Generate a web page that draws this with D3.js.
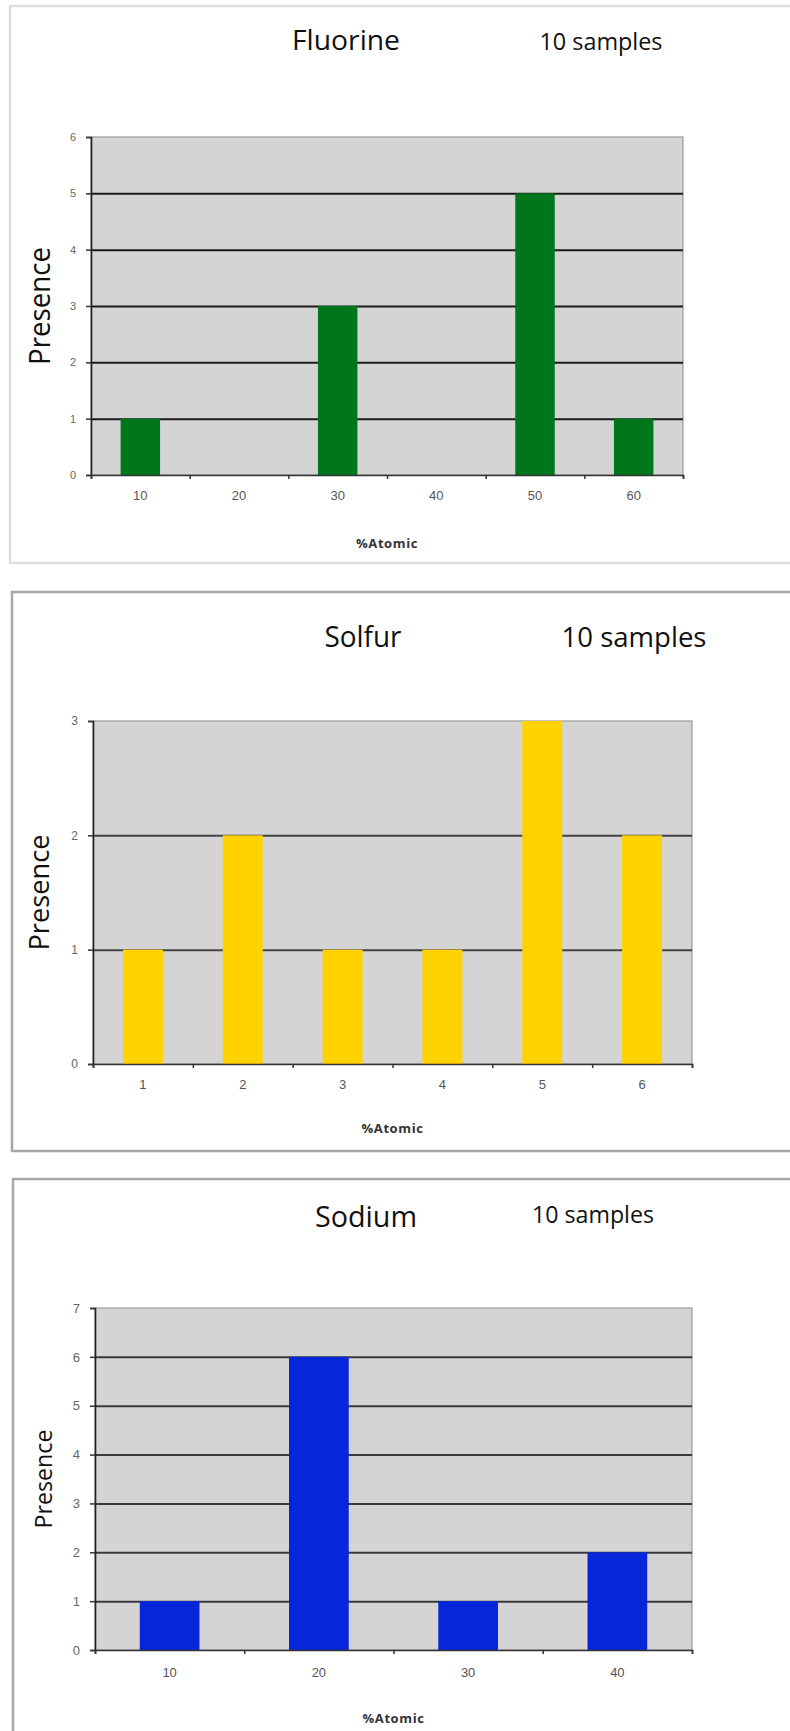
<!DOCTYPE html>
<html>
<head>
<meta charset="utf-8">
<script src="https://cdn.jsdelivr.net/npm/d3@7"></script>
<style>
  body { margin: 0; background: #fff; }
  svg { display: block; font-family: "Open Sans", "DejaVu Sans", sans-serif; }
</style>
</head>
<body>
<svg id="chart" width="790" height="1731"></svg>
<script>
// ---- data ----
const fluorineCats = ["10", "20", "30", "40", "50", "60"];
const fluorineVals = [1, 0, 3, 0, 5, 1];
const fluorineMax = 6;

const solfurCats = ["1", "2", "3", "4", "5", "6"];
const solfurVals = [1, 2, 1, 1, 3, 2];
const solfurMax = 3;

const sodiumCats = ["10", "20", "30", "40"];
const sodiumVals = [1, 6, 1, 2];
const sodiumMax = 7;

const sampleText = "10 samples";
const yTitle = "Presence";
const xTitle = "%Atomic";

// ---- layout for each panel ----
const panels = [
    {
        name: "Fluorine", cats: fluorineCats, vals: fluorineVals, yMax: fluorineMax,
        color: "#00761c", grid: "#1a1a1a",
        box: { x: 10, y: 6, h: 557, stroke: "#dedede" },
        plot: { l: 91, r: 683, t: 137, b: 475 },
        t1: { x: 346, y: 50, size: 28, len: 108 },
        t2: { x: 601, y: 50, size: 24, len: 123 },
        yLab: { x: 38, size: 29, len: 118 }, yTickSize: 11,
        xLabY: 498, atomY: 543
    },
    {
        name: "Solfur", cats: solfurCats, vals: solfurVals, yMax: solfurMax,
        color: "#ffd200", grid: "#444",
        box: { x: 12, y: 592, h: 559, stroke: "#a8a8a8" },
        plot: { l: 93, r: 692, t: 721, b: 1064 },
        t1: { x: 363, y: 647, size: 29, len: 77 },
        t2: { x: 634, y: 647, size: 28, len: 145 },
        yLab: { x: 38, size: 28, len: 116 }, yTickSize: 12,
        xLabY: 1087, atomY: 1128
    },
    {
        name: "Sodium", cats: sodiumCats, vals: sodiumVals, yMax: sodiumMax,
        color: "#0626da", grid: "#3a3a3a",
        box: { x: 13, y: 1179, h: 700, stroke: "#a8a8a8" },
        plot: { l: 95, r: 692, t: 1308, b: 1650 },
        t1: { x: 366, y: 1227, size: 29, len: 102 },
        t2: { x: 593, y: 1223, size: 24, len: 122 },
        yLab: { x: 43, size: 23, len: 99 }, yTickSize: 13,
        xLabY: 1675, atomY: 1718
    }
];

const svg = d3.select("#chart");

panels.forEach(p => drawPanel(p));

function drawPanel(p) {
    let g = svg.append("g").attr("class", "panel");

    // outer frame (runs off the right edge like the picture)
    g.append("rect")
        .attr("x", p.box.x)
        .attr("y", p.box.y)
        .attr("width", 820)
        .attr("height", p.box.h)
        .attr("fill", "#fff")
        .attr("stroke", p.box.stroke)
        .attr("stroke-width", 2.5);

    // titles
    g.append("text")
        .attr("x", p.t1.x)
        .attr("y", p.t1.y)
        .attr("text-anchor", "middle")
        .attr("font-size", p.t1.size)
        .attr("textLength", p.t1.len)
        .attr("lengthAdjust", "spacingAndGlyphs")
        .attr("fill", "#111")
        .text(p.name);
    g.append("text")
        .attr("x", p.t2.x)
        .attr("y", p.t2.y)
        .attr("text-anchor", "middle")
        .attr("font-size", p.t2.size)
        .attr("textLength", p.t2.len)
        .attr("lengthAdjust", "spacingAndGlyphs")
        .attr("fill", "#111")
        .text(sampleText);

    let x = d3.scaleBand()
        .domain(p.cats)
        .range([p.plot.l, p.plot.r])
        .paddingInner(0.6)
        .paddingOuter(0.3);
    // same range, used for the ticks between the categories
    let xEdge = d3.scaleLinear()
        .domain([0, p.cats.length])
        .range([p.plot.l, p.plot.r]);
    let y = d3.scaleLinear()
        .domain([0, p.yMax])
        .range([p.plot.b, p.plot.t]);

    let w = p.plot.r - p.plot.l;

    // plot area
    g.append("rect")
        .attr("x", p.plot.l)
        .attr("y", p.plot.t)
        .attr("width", w)
        .attr("height", p.plot.b - p.plot.t)
        .attr("fill", "#d4d4d4")
        .attr("stroke", "#9a9a9a")
        .attr("stroke-width", 1.2);

    // grid lines
    g.append("g")
        .attr("transform", `translate(${p.plot.l},0)`)
        .call(d3.axisLeft(y).tickValues(d3.range(1, p.yMax)).tickSize(-w).tickFormat(""))
        .call(a => a.select(".domain").remove())
        .selectAll("line")
        .attr("stroke", p.grid)
        .attr("stroke-width", 2);

    // bars
    g.append("g")
        .selectAll("rect")
        .data(p.vals)
        .join("rect")
        .attr("x", (d, i) => x(p.cats[i]))
        .attr("y", d => y(d))
        .attr("width", x.bandwidth())
        .attr("height", d => y(0) - y(d))
        .attr("fill", p.color);

    // y axis
    let yAxis = g.append("g")
        .attr("transform", `translate(${p.plot.l},0)`)
        .call(d3.axisLeft(y).ticks(p.yMax).tickFormat(d3.format("d")).tickSize(5).tickPadding(10));
    yAxis.select(".domain").attr("stroke", "#222").attr("stroke-width", 1.6);
    yAxis.selectAll(".tick line").attr("stroke", "#333").attr("stroke-width", 1.5);
    yAxis.selectAll("text")
        .attr("font-size", p.yTickSize)
        .attr("fill", "#666");

    // x axis: ticks at the band edges, labels at the band centres
    let xAxis = g.append("g")
        .attr("transform", `translate(0,${p.plot.b})`)
        .call(d3.axisBottom(xEdge).ticks(p.cats.length).tickFormat("").tickSize(4));
    xAxis.select(".domain").attr("stroke", "#333").attr("stroke-width", 1.6);
    xAxis.selectAll(".tick line").attr("stroke", "#333").attr("stroke-width", 1.5);

    let xLabels = g.append("g")
        .attr("transform", `translate(0,${p.xLabY - 7})`)
        .call(d3.axisBottom(x).tickSize(0).tickPadding(0));
    xLabels.select(".domain").remove();
    xLabels.selectAll("text")
        .attr("font-size", 13)
        .attr("fill", "#555");

    // axis titles
    g.append("text")
        .attr("transform", `translate(${p.yLab.x},${(p.plot.t + p.plot.b) / 2}) rotate(-90)`)
        .attr("text-anchor", "middle")
        .attr("dominant-baseline", "central")
        .attr("font-size", p.yLab.size)
        .attr("textLength", p.yLab.len)
        .attr("lengthAdjust", "spacingAndGlyphs")
        .attr("fill", "#111")
        .text(yTitle);

    g.append("text")
        .attr("x", (p.plot.l + p.plot.r) / 2)
        .attr("y", p.atomY)
        .attr("text-anchor", "middle")
        .attr("dominant-baseline", "central")
        .attr("font-size", 13)
        .attr("font-weight", "bold")
        .attr("letter-spacing", 0.6)
        .attr("fill", "#333")
        .text(xTitle);
}
</script>
</body>
</html>
